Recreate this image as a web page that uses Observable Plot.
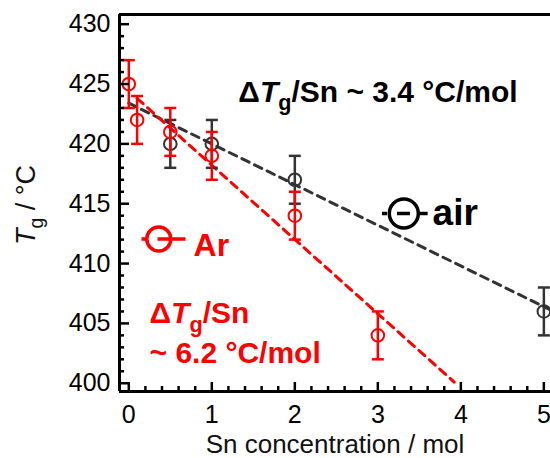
<!DOCTYPE html>
<html>
<head>
<meta charset="utf-8">
<script src="https://cdn.jsdelivr.net/npm/d3@7"></script>
<script src="https://cdn.jsdelivr.net/npm/@observablehq/plot@0.6"></script>
<style>
  html, body { margin: 0; padding: 0; background: #fff; }
  svg { display: block; }
</style>
</head>
<body>
<div id="chart"></div>
<script>
// ---- data ----
const snAir = [0.5, 1, 2, 5];
const tgAir = [420, 420, 417, 406];
const errAir = [2, 2, 2, 2];

const snAr = [0, 0.1, 0.5, 1, 2, 3];
const tgAr = [425, 422, 421, 419, 414, 404];
const errAr = [2, 2, 2, 2, 2, 2];

const airFitX = [0, 5.1];
const airFitY = [423.4, 406.06];
const arFitX = [0.1, 3.92];
const arFitY = [423.8, 400.1];

const xMajor = [0, 1, 2, 3, 4, 5];
const yMajor = [400, 405, 410, 415, 420, 425, 430];
const xMinor = d3.range(0.2, 5.0, 0.2).filter(v => Math.abs(v - Math.round(v)) > 1e-6);
const yMinor = d3.range(400, 431, 1).filter(v => v % 5 !== 0);

const xTitle = "Sn concentration / mol";
const yTitle = "T_g / °C";
const airSlopeLabel = "ΔT_g/Sn ~ 3.4 °C/mol";
const arSlopeLabel1 = "ΔT_g/Sn";
const arSlopeLabel2 = "~ 6.2 °C/mol";
const airName = "air";
const arName = "Ar";

// ---- build ----
const GRAY = "#333333";
const RED = "#ff0000";
const FONT = '"Liberation Sans", Arial, Helvetica, sans-serif';
const W = 550, H = 458, ML = 119, MR = 0, MT = 14, MB = 67;
const X0 = -0.112, X1 = 5.08, Y0 = 399.31, Y1 = 430.81;
const kx = (W - ML - MR) / (X1 - X0);   // px per x unit
const ky = (H - MT - MB) / (Y1 - Y0);   // px per y unit

const air = snAir.map((x, i) => ({x, y: tgAir[i], e: errAir[i]}));
const ar = snAr.map((x, i) => ({x, y: tgAr[i], e: errAr[i]}));
const airFit = airFitX.map((x, i) => ({x, y: airFitY[i]}));
const arFit = arFitX.map((x, i) => ({x, y: arFitY[i]}));

const capSym = {draw(ctx, size) { const r = Math.sqrt(size / Math.PI); ctx.moveTo(-r, 0); ctx.lineTo(r, 0); }};

function seriesMarks(data, color) {
  return [
    Plot.ruleX(data, {x: "x", y1: d => d.y - d.e, y2: d => d.y + d.e, stroke: color, strokeWidth: 2.5}),
    Plot.dot(data, {x: "x", y: d => d.y + d.e, symbol: capSym, r: 6, stroke: color, strokeWidth: 2.5, fill: "none"}),
    Plot.dot(data, {x: "x", y: d => d.y - d.e, symbol: capSym, r: 6, stroke: color, strokeWidth: 2.5, fill: "none"}),
    Plot.dot(data, {x: "x", y: "y", r: 6.3, stroke: color, strokeWidth: 2, fill: "none"})
  ];
}

const plot = Plot.plot({
  width: W,
  height: H,
  marginLeft: ML,
  marginRight: MR,
  marginTop: MT,
  marginBottom: MB,
  x: {domain: [X0, X1], axis: null},
  y: {domain: [Y0, Y1], axis: null},
  style: {fontFamily: FONT, background: "#fff", color: "#000", overflow: "visible"},
  marks: [
    Plot.line(airFit, {x: "x", y: "y", stroke: GRAY, strokeWidth: 3, strokeDasharray: "8,6", clip: true}),
    Plot.line(arFit, {x: "x", y: "y", stroke: RED, strokeWidth: 3, strokeDasharray: "8,6", clip: true}),
    ...seriesMarks(air, GRAY),
    ...seriesMarks(ar, RED),
    // frame
    Plot.ruleY([Y1], {stroke: "#000", strokeWidth: 3}),
    Plot.ruleY([Y0], {stroke: "#000", strokeWidth: 3}),
    Plot.ruleX([X0], {stroke: "#000", strokeWidth: 3}),
    // inward ticks
    Plot.ruleX(xMajor, {x: d => d, y1: Y0, y2: Y0 + 9 / ky, stroke: "#000", strokeWidth: 2.5}),
    Plot.ruleX(xMinor, {x: d => d, y1: Y0, y2: Y0 + 5 / ky, stroke: "#000", strokeWidth: 2.5}),
    Plot.ruleY(yMajor, {y: d => d, x1: X0, x2: X0 + 10 / kx, stroke: "#000", strokeWidth: 2.5}),
    Plot.ruleY(yMinor, {y: d => d, x1: X0, x2: X0 + 5 / kx, stroke: "#000", strokeWidth: 2.5}),
    // tick labels
    Plot.axisX(xMajor, {tickSize: 0, tickPadding: 14, fontSize: 25, label: null, fill: "#000"}),
    Plot.axisY(yMajor, {tickSize: 0, tickPadding: 9, fontSize: 25, label: null, fill: "#000"}),
    // axis titles
    Plot.text([xTitle], {frameAnchor: "bottom", dy: 61, lineAnchor: "bottom", fontSize: 26, fill: "#111"}),
    Plot.text([yTitle], {frameAnchor: "left", dx: -93, dy: 2, rotate: -90, textAnchor: "middle", lineAnchor: "middle", fontSize: 27, fill: "#111"}),
    // legends
    Plot.link([{a: 0.153, b: 0.683, y: 412.06}], {x1: "a", x2: "b", y1: "y", y2: "y", stroke: RED, strokeWidth: 3.5, strokeDasharray: "6,10,30"}),
    Plot.dot([{x: 0.361, y: 412.06}], {x: "x", y: "y", r: 12, stroke: RED, strokeWidth: 3.5, fill: "none"}),
    Plot.text([{x: 0.78, y: 410.67, t: arName}], {x: "x", y: "y", text: "t", textAnchor: "start", lineAnchor: "bottom", fontSize: 32, fontWeight: "bold", fill: RED}),
    Plot.link([{a: 3.05, b: 3.60, y: 414.18}], {x1: "a", x2: "b", y1: "y", y2: "y", stroke: "#000", strokeWidth: 3.5, strokeDasharray: "5,10,13,10,8"}),
    Plot.dot([{x: 3.313, y: 414.18}], {x: "x", y: "y", r: 14.5, stroke: "#000", strokeWidth: 3.5, fill: "none"}),
    Plot.text([{x: 3.66, y: 413.26, t: airName}], {x: "x", y: "y", text: "t", textAnchor: "start", lineAnchor: "bottom", fontSize: 37, fontWeight: "bold", fill: "#000"}),
    // slope annotations
    Plot.text([{x: 1.32, y: 423.53, t: airSlopeLabel}], {x: "x", y: "y", text: "t", textAnchor: "start", lineAnchor: "bottom", fontSize: 30, fontWeight: "bold", fill: "#000"}),
    Plot.text([{x: 0.25, y: 405.0, t: arSlopeLabel1}], {x: "x", y: "y", text: "t", textAnchor: "start", lineAnchor: "bottom", fontSize: 30, fontWeight: "bold", fill: RED}),
    Plot.text([{x: 0.25, y: 401.73, t: arSlopeLabel2}], {x: "x", y: "y", text: "t", textAnchor: "start", lineAnchor: "bottom", fontSize: 30, fontWeight: "bold", fill: RED})
  ]
});

document.getElementById("chart").appendChild(plot);

// italic T with subscript g
const NS = "http://www.w3.org/2000/svg";
plot.querySelectorAll("text, tspan").forEach(node => {
  if (node.children.length) return;
  const s = node.textContent;
  const i = s.indexOf("T_g");
  if (i < 0) return;
  const fs = parseFloat(getComputedStyle(node).fontSize) || 20;
  const before = s.slice(0, i), after = s.slice(i + 3);
  node.textContent = "";
  const add = (txt, attrs) => {
    const t = document.createElementNS(NS, "tspan");
    for (const k in attrs) t.setAttribute(k, attrs[k]);
    t.textContent = txt;
    node.appendChild(t);
  };
  if (before) node.appendChild(document.createTextNode(before));
  add("T", {"font-style": "italic"});
  const shift = 0.28 * fs;
  add("g", {"font-size": (0.72 * fs) + "px", dy: shift});
  add(after, {dy: -shift});
});
</script>
</body>
</html>
